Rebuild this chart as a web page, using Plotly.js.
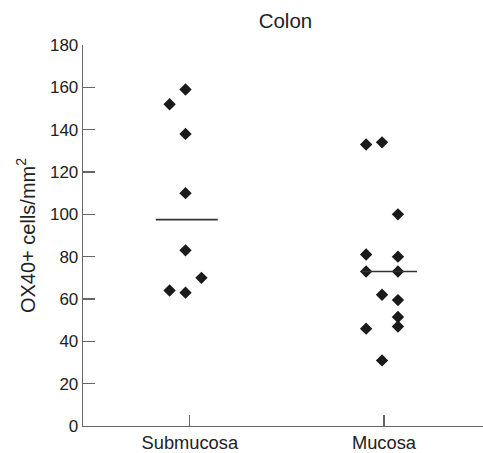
<!DOCTYPE html>
<html>
<head>
<meta charset="utf-8">
<script src="https://cdn.plot.ly/plotly-3.0.1.min.js"></script>
<style>html,body{margin:0;padding:0;background:#fff;}#chart{width:483px;height:453px;}</style>
</head>
<body>
<div id="chart"></div>
<script>
// Data
const categories = ["Submucosa", "Mucosa"];
const submucosaValues = [152, 159, 138, 110, 83, 70, 64, 63];
const submucosaColumn = [-1, 0, 0, 0, 0, 1, -1, 0];
const mucosaValues = [133, 134, 100, 81, 80, 73, 73, 62, 59.5, 51.5, 47, 46, 31];
const mucosaColumn = [-1, 0, 1, -1, 1, -1, 1, 0, 1, 1, 1, -1, 0];
const medians = [97.5, 73];
const yTicks = [0, 20, 40, 60, 80, 100, 120, 140, 160, 180];

// layout constants (positions in axis units)
const tickPos = [1, 2];
const groupCenter = [0.978, 1.99];
const colStep = 0.082;
const medianSpan = [[0.825, 1.144], [1.887, 2.17]];

const ink = "#1a1a1a";
const axisGray = "#666666";
const fam = "Liberation Sans, Arial, Helvetica, sans-serif";
const txt = "#222";

const traces = [];
[[submucosaValues, submucosaColumn], [mucosaValues, mucosaColumn]].forEach(([vals, cols], i) => {
  traces.push({
    type: "scatter", mode: "markers",
    x: cols.map(c => groupCenter[i] + c * colStep),
    y: vals,
    marker: {symbol: "diamond", size: 9.5, color: ink, line: {width: 0}},
    hoverinfo: "y", showlegend: false, cliponaxis: false
  });
  traces.push({
    type: "scatter", mode: "lines",
    x: medianSpan[i], y: [medians[i], medians[i]],
    line: {color: "#333", width: 1.6},
    hoverinfo: "skip", showlegend: false
  });
});

const layout = {
  width: 483, height: 453,
  margin: {l: 83, r: 0, t: 45, b: 27, pad: 0},
  paper_bgcolor: "#fff", plot_bgcolor: "#fff",
  font: {family: fam, size: 17, color: txt},
  title: {text: "Colon", x: 0.591, xanchor: "center", y: 0.955, yanchor: "middle", font: {family: fam, size: 20.5, color: txt}},
  xaxis: {
    range: [0.45, 2.51], showgrid: false, zeroline: false,
    showline: true, linecolor: axisGray, linewidth: 1.3,
    tickmode: "array", tickvals: tickPos, ticktext: categories,
    ticks: "inside", ticklen: 11, tickwidth: 1.3, tickcolor: axisGray,
    tickfont: {family: fam, size: 18.3, color: txt},
    fixedrange: true
  },
  yaxis: {
    range: [0, 180], showgrid: false, zeroline: false,
    showline: true, linecolor: axisGray, linewidth: 1.3,
    tickmode: "array", tickvals: yTicks,
    ticks: "inside", ticklen: 12, tickwidth: 1.3, tickcolor: axisGray,
    tickfont: {family: fam, size: 17, color: txt},
    title: {text: "OX40+ cells/mm<sup>2</sup>", standoff: 9, font: {family: fam, size: 20, color: txt}},
    fixedrange: true
  },
  showlegend: false
};

Plotly.newPlot("chart", traces, layout, {displayModeBar: false, staticPlot: true});
</script>
</body>
</html>
